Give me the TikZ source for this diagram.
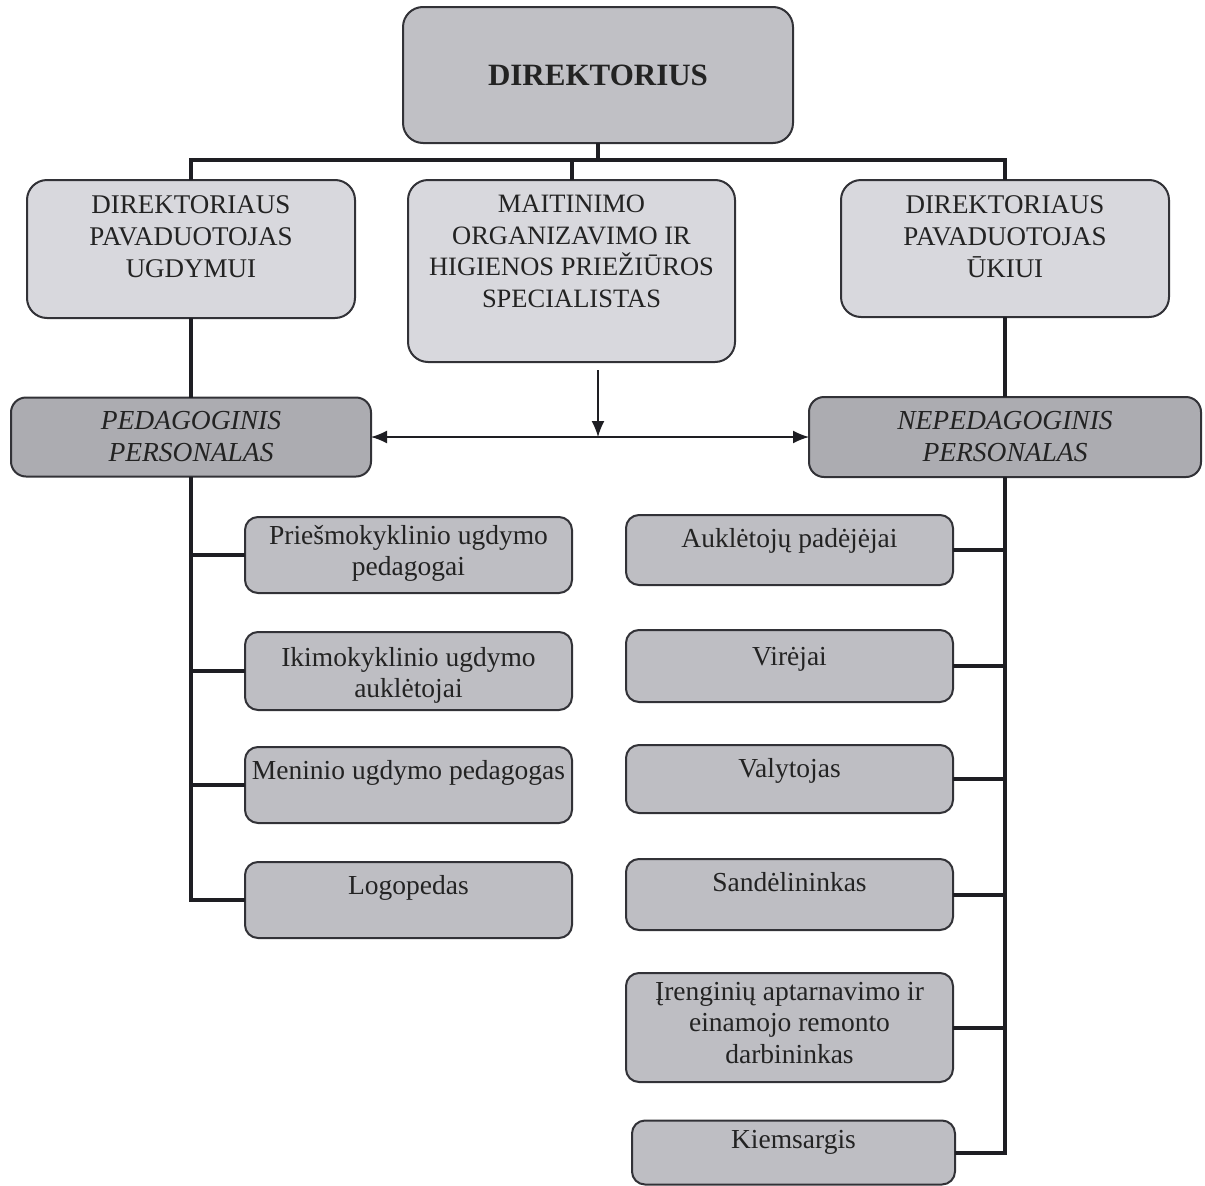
\documentclass[tikz,border=0pt]{standalone}
\usepackage{fontspec}
\setmainfont{Liberation Serif}
\usetikzlibrary{arrows.meta,calc}
\definecolor{cdir}{RGB}{192,192,197}
\definecolor{csub}{RGB}{216,216,221}
\definecolor{cpers}{RGB}{172,172,177}
\definecolor{clow}{RGB}{190,190,195}
\definecolor{cborder}{RGB}{50,50,55}
\definecolor{cline}{RGB}{30,30,35}
\definecolor{ctext}{RGB}{35,35,35}
\begin{document}
\begin{tikzpicture}[x=1pt,y=-1pt,
  boxbase/.style={draw=cborder, line width=2pt, inner sep=0pt, outer sep=0pt},
  topbox/.style={boxbase, fill=cdir, rounded corners=20pt, text=ctext,
    font=\fontsize{31}{36}\selectfont\bfseries},
  subbox/.style={boxbase, fill=csub, rounded corners=20pt, minimum width=328pt},
  persbox/.style={boxbase, fill=cpers, rounded corners=15pt, align=center, text=ctext,
    font=\fontsize{27.5}{32}\selectfont\itshape},
  lowbox/.style={boxbase, fill=clow, rounded corners=13pt, minimum width=327pt},
  uptxt/.style={anchor=north, inner sep=0pt, align=center, text=ctext,
    font=\fontsize{27}{32}\selectfont},
  lowtxt/.style={anchor=north, inner sep=0pt, align=center, text=ctext,
    font=\fontsize{27.5}{31.5}\selectfont},
  conn/.style={draw=cline, line width=4pt},
  arr/.style={draw=cline, line width=1.5pt, -{Latex[length=16pt,width=13pt]}}
]
\useasboundingbox (0,0) rectangle (1205,1186);

% top level
\node[topbox, minimum width=390pt, minimum height=136pt] (dir) at (598,75) {DIREKTORIUS};

% second level
\node[subbox, minimum height=138pt] (dl) at (191,249) {};
\node[subbox, minimum width=327pt, minimum height=182pt] (dm) at (571.5,271) {};
\node[subbox, minimum height=137pt] (dr) at (1005,248.5) {};
\node[uptxt] (dlt) at ([yshift=-15pt]dl.north) {DIREKTORIAUS\\PAVADUOTOJAS\\UGDYMUI};
\node[uptxt, font=\fontsize{26.5}{31.5}\selectfont] (dmt) at ([yshift=-15pt]dm.north) {MAITINIMO\\ORGANIZAVIMO IR\\HIGIENOS PRIEŽIŪROS\\SPECIALISTAS};
\node[uptxt] (drt) at ([yshift=-15pt]dr.north) {DIREKTORIAUS\\PAVADUOTOJAS\\ŪKIUI};

% personnel
\node[persbox, minimum width=360pt, minimum height=79pt] (ped) at (191,437) {PEDAGOGINIS\\PERSONALAS};
\node[persbox, minimum width=392pt, minimum height=80pt] (nep) at (1005,437) {NEPEDAGOGINIS\\PERSONALAS};

% lower left
\node[lowbox, minimum height=76pt] (lb1) at (408.5,555) {};
\node[lowbox, minimum height=78pt] (lb2) at (408.5,671) {};
\node[lowbox, minimum height=76pt] (lb3) at (408.5,785) {};
\node[lowbox, minimum height=76pt] (lb4) at (408.5,900) {};
\node[lowtxt] (lt1) at ([yshift=-8pt]lb1.north) {Priešmokyklinio ugdymo\\pedagogai};
\node[lowtxt] (lt2) at ([yshift=-15pt]lb2.north) {Ikimokyklinio ugdymo\\auklėtojai};
\node[lowtxt] (lt3) at ([yshift=-13pt]lb3.north) {Meninio ugdymo pedagogas};
\node[lowtxt] (lt4) at ([yshift=-13pt]lb4.north) {Logopedas};

% lower right
\node[lowbox, minimum height=70pt] (rb1) at (789.5,550) {};
\node[lowbox, minimum height=72pt] (rb2) at (789.5,666) {};
\node[lowbox, minimum height=68pt] (rb3) at (789.5,779) {};
\node[lowbox, minimum height=71pt] (rb4) at (789.5,894.5) {};
\node[lowbox, minimum height=109pt] (rb5) at (789.5,1027.5) {};
\node[lowbox, minimum width=323pt, minimum height=64pt] (rb6) at (793.5,1152.5) {};
\node[lowtxt] (rt1) at ([yshift=-13pt]rb1.north) {Auklėtojų padėjėjai};
\node[lowtxt] (rt2) at ([yshift=-17pt]rb2.north) {Virėjai};
\node[lowtxt] (rt3) at ([yshift=-13pt]rb3.north) {Valytojas};
\node[lowtxt] (rt4) at ([yshift=-13pt]rb4.north) {Sandėlininkas};
\node[lowtxt] (rt5) at ([yshift=-9pt]rb5.north) {Įrenginių aptarnavimo ir\\einamojo remonto\\darbininkas};
\node[lowtxt] (rt6) at ([yshift=-10pt]rb6.north) {Kiemsargis};

% connectors from director
\coordinate (bus) at (598,160);
\draw[conn] (dir.south) -- (dir.south |- bus);
\draw[conn] (dl.north) -- (dl.north |- bus) -- (dr.north |- bus) -- (dr.north);
\draw[conn] (dm.north) -- (dm.north |- bus);

% deputies to personnel
\draw[conn] (dl.south) -- (ped.north);
\draw[conn] (dr.south) -- (nep.north);

% arrows from the specialist
\coordinate (atop) at (598,370);
\coordinate (amid) at (598,437);
\draw[arr] (atop) -- (amid);
\draw[arr] (amid) -- (ped.east);
\draw[arr] (amid) -- (nep.west);

% left spine
\draw[conn] (ped.south) |- (lb4.west);
\foreach \b in {lb1,lb2,lb3}{\draw[conn] (\b.west) -- (\b.west -| ped.south);}

% right spine
\draw[conn] (nep.south) |- (rb6.east);
\foreach \b in {rb1,rb2,rb3,rb4,rb5}{\draw[conn] (\b.east) -- (\b.east -| nep.south);}
\end{tikzpicture}
\end{document}
